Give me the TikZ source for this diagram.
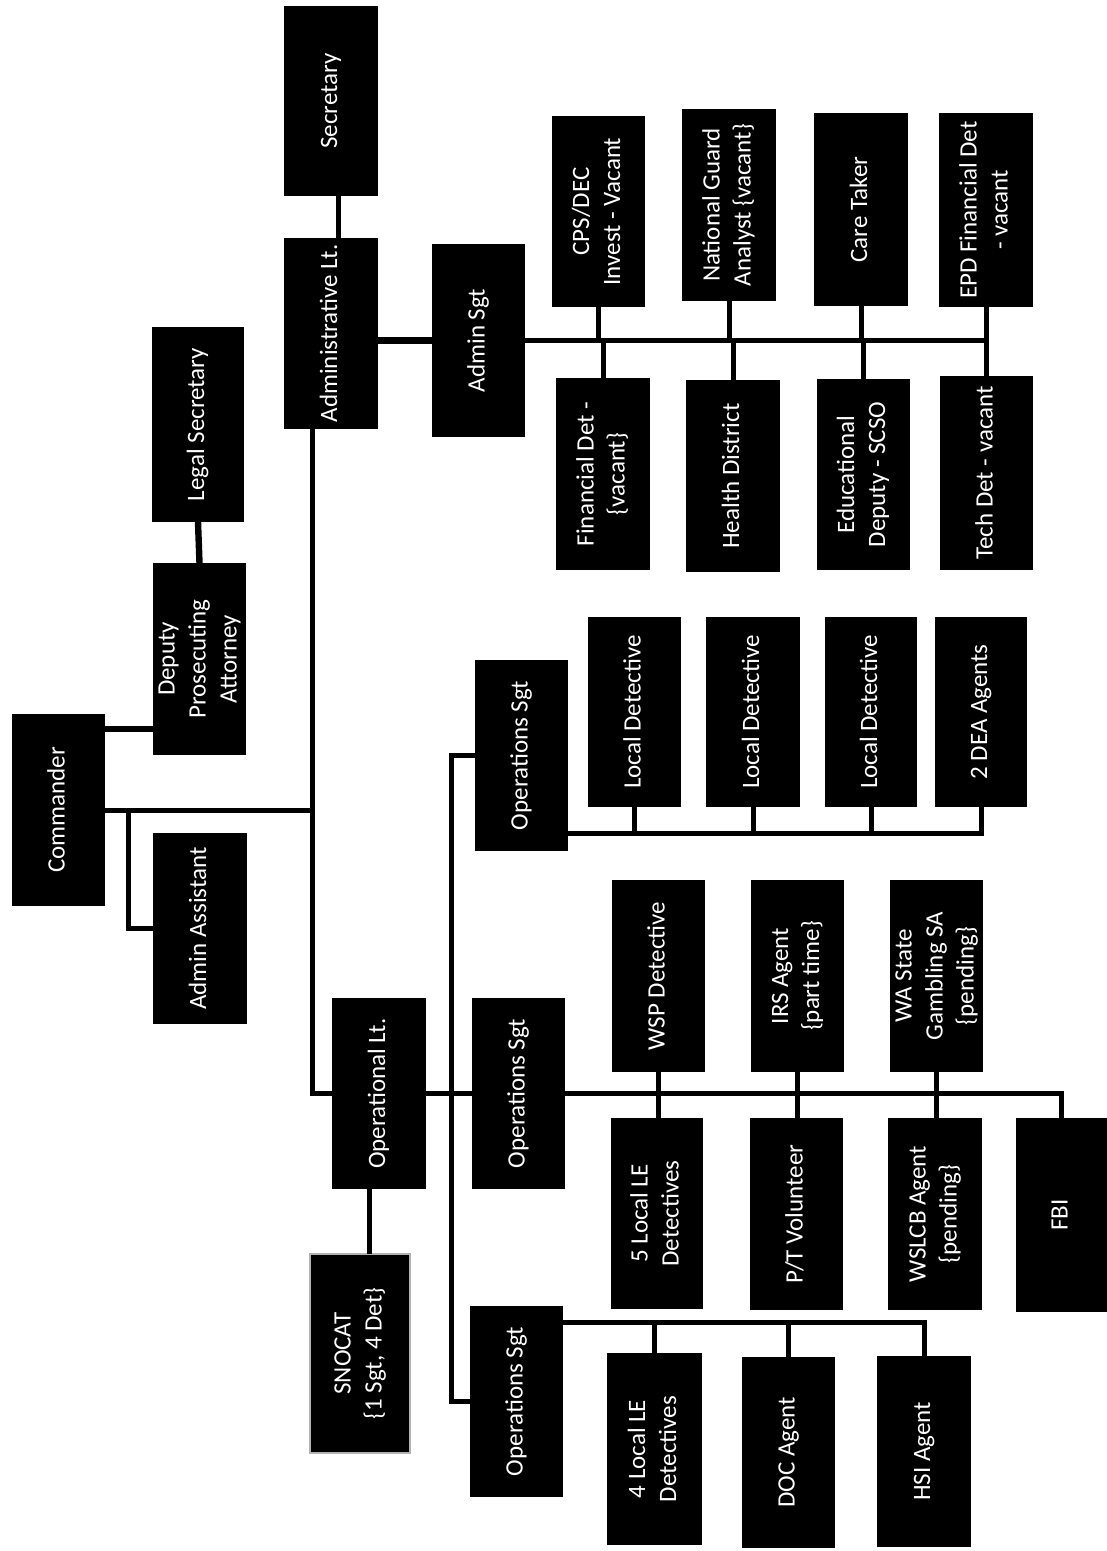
\documentclass[tikz,border=0pt]{standalone}
\usepackage{fontspec}
\setmainfont{Carlito}
\usepackage{graphicx}
\newcommand\rt[1]{\rotatebox{90}{\begin{tabular}{@{}c@{}}#1\end{tabular}}}
\newcommand\ob[7][]{\node[orgbox,#1, minimum width={(#4-#2)*0.5pt}, minimum height={(#5-#3)*0.5pt}] (#2X) at ({(#2+#4)/2},{(#3+#5)/2}) {};}
\newcommand\obx[7][]{\node[orgbox,#1, minimum width={(#5-#3)*0.5pt}, minimum height={(#6-#4)*0.5pt}] (#2) at ({(#3+#5)/2},{(#4+#6)/2}) {\rt{#7}};}
\tikzset{
  orgbox/.style={fill=black, text=white, inner sep=0pt, outer sep=0pt,
    font=\fontsize{12.5}{15.5}\selectfont},
  link/.style={line width=2.5pt, draw=black},
  thicklink/.style={line width=3.2pt, draw=black},
}
\begin{document}
\begin{tikzpicture}[x=0.5pt,y=-0.5pt]
\fill[white] (0,0) rectangle (1107,1551);
\useasboundingbox (0,0) rectangle (1107,1551);
% boxes: name, x1, y1, x2, y2, text
\obx{cmd}{12}{714}{105}{906}{Commander}
\obx{dpa}{153}{563}{246}{755}{Deputy\\Prosecuting\\Attorney}
\obx{legsec}{152}{327}{244}{522}{Legal Secretary}
\obx{asst}{153}{833}{247}{1024}{Admin Assistant}
\obx{sec}{284}{6}{378}{196}{Secretary}
\obx{admlt}{284}{238}{378}{429}{Administrative Lt.}
\obx{admsgt}{432}{244}{525}{437}{Admin Sgt}
\obx{cps}{552}{116}{645}{307}{CPS/DEC\\Invest - Vacant}
\obx{ng}{682}{109}{776}{301}{National Guard\\Analyst \{vacant\}}
\obx{care}{814}{113}{908}{306}{Care Taker}
\obx{epd}{939}{113}{1033}{307}{EPD Financial Det\\- vacant}
\obx{fin}{556}{378}{650}{570}{Financial Det -\\\{vacant\}}
\obx{hd}{686}{380}{780}{572}{Health District}
\obx{educ}{817}{379}{910}{570}{Educational\\Deputy - SCSO}
\obx{tech}{940}{376}{1033}{570}{Tech Det - vacant}
\obx{opsA}{475}{660}{568}{851}{Operations Sgt}
\obx{ld1}{588}{617}{681}{807}{Local Detective}
\obx{ld2}{706}{617}{800}{807}{Local Detective}
\obx{ld3}{825}{617}{917}{807}{Local Detective}
\obx{dea}{935}{617}{1027}{807}{2 DEA Agents}
\obx{oplt}{332}{998}{426}{1189}{Operational Lt.}
\obx[draw=gray!60, line width=1.3pt]{snocat}{310}{1254}{410}{1453}{SNOCAT\\\{1 Sgt, 4 Det\}}
\obx{opsB}{472}{998}{565}{1189}{Operations Sgt}
\obx{wsp}{612}{880}{705}{1072}{WSP Detective}
\obx{irs}{751}{880}{844}{1072}{IRS Agent\\\{part time\}}
\obx{wa}{890}{880}{983}{1072}{WA State\\Gambling SA\\\{pending\}}
\obx{loc5}{611}{1118}{703}{1309}{5 Local LE\\Detectives}
\obx{pt}{750}{1118}{843}{1310}{P/T Volunteer}
\obx{wslcb}{888}{1118}{982}{1310}{WSLCB Agent\\\{pending\}}
\obx{fbi}{1016}{1118}{1107}{1312}{FBI}
\obx{opsC}{470}{1306}{563}{1497}{Operations Sgt}
\obx{loc4}{607}{1353}{702}{1545}{4 Local LE\\Detectives}
\obx{doc}{742}{1357}{835}{1548}{DOC Agent}
\obx{hsi}{877}{1356}{971}{1547}{HSI Agent}
% helper coordinates
\coordinate (c1) at (0,729);
\coordinate (c2) at (0,810);
\coordinate (tx) at (312,0);
\coordinate (aj) at (128,810);
\coordinate (sx) at (338,0);
\coordinate (bx) at (451,1093);
\coordinate (sn) at (369,0);
\coordinate (b2) at (0,833);
\coordinate (b3) at (0,1322);
% commander links
\draw[thicklink] (cmd.east |- c1) -- (dpa.west |- c1);
\draw[thicklink] (dpa.north) -- (legsec.south);
\draw[link] (cmd.east |- c2) -- (tx |- c2);
\draw[link] (aj) |- (asst.west);
\draw[link] (admlt.south -| tx) -- (tx |- oplt.west) -- (oplt.west);
% admin side
\draw[link] (sec.south -| sx) -- (admlt.north -| sx);
\draw[thicklink] (admlt.east |- admsgt.west) -- (admsgt.west);
\draw[link] (admsgt.east) -- (admsgt.east -| tech.north) -- (tech.north);
\draw[link] (cps.south) -- (cps.south |- admsgt.east);
\draw[link] (ng.south) -- (ng.south |- admsgt.east);
\draw[link] (care.south) -- (care.south |- admsgt.east);
\draw[link] (epd.south) -- (epd.south |- admsgt.east);
\draw[link] (fin.north) -- (fin.north |- admsgt.east);
\draw[link] (hd.north) -- (hd.north |- admsgt.east);
\draw[link] (educ.north) -- (educ.north |- admsgt.east);
% operational side
\draw[link] (oplt.south -| sn) -- (snocat.north -| sn);
\draw[link] (oplt.east) -- (opsB.west);
\draw[link] (opsA.west) -| (bx) |- (opsC.west);
\draw[link] (opsA.east |- b2) -| (dea.south);
\draw[link] (ld1.south) -- (ld1.south |- b2);
\draw[link] (ld2.south) -- (ld2.south |- b2);
\draw[link] (ld3.south) -- (ld3.south |- b2);
\draw[link] (opsB.east) -| (fbi.north);
\draw[link] (wsp.south) -- (wsp.south |- loc5.north);
\draw[link] (irs.south) -- (irs.south |- pt.north);
\draw[link] (wa.south) -- (wa.south |- wslcb.north);
\draw[link] (opsC.east |- b3) -| (hsi.north);
\draw[link] (loc4.north) -- (loc4.north |- b3);
\draw[link] (doc.north) -- (doc.north |- b3);
\end{tikzpicture}
\end{document}
